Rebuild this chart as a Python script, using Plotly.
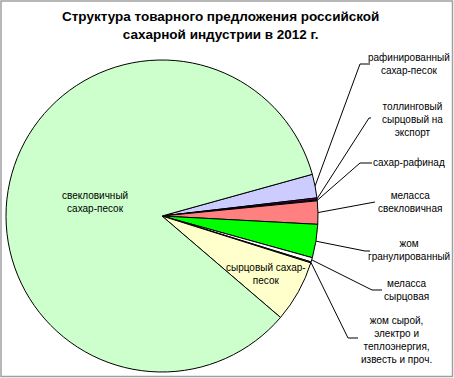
import math
import plotly.graph_objects as go

title_text = "Структура товарного предложения российской<br>сахарной индустрии в 2012 г."

categories = [
    "рафинированный сахар-песок",
    "толлинговый сырцовый на экспорт",
    "сахар-рафинад",
    "меласса свекловичная",
    "жом гранулированный",
    "меласса сырцовая",
    "жом сырой, электро и теплоэнергия, известь и проч.",
    "сырцовый сахар-песок",
    "свекловичный сахар-песок",
]
values = [2.45, 0.2, 0.1, 2.4, 3.45, 0.45, 0.1, 6.4, 84.3]
colors = ["#CCCCFF", "#660066", "#0066CC", "#FF8080", "#00FF00",
          "#FFFFFF", "#CCFFFF", "#FFFFCC", "#CCFFCC"]

label_texts = [
    "рафинированный<br>сахар-песок",
    "толлинговый<br>сырцовый на<br>экспорт",
    "сахар-рафинад",
    "меласса<br>свекловичная",
    "жом<br>гранулированный",
    "меласса<br>сырцовая",
    "жом сырой,<br>электро и<br>теплоэнергия,<br>известь и проч.",
    "сырцовый сахар-<br>песок",
    "свекловичный<br>сахар-песок",
]

W, H = 454, 378
CX, CY, R = 162, 216, 156
ROT = 74.5

label_layout = [
    (409, 64, [(370, 64), (360, 64)]),
    (412, 119, [(371, 118), (369, 118)]),
    (409, 163, [(372, 163), (360, 163)]),
    (410, 202, [(375, 202)]),
    (409, 250, [(370, 251), (365, 251)]),
    (406, 290, [(382, 290), (372, 290)]),
    (396, 340, [(358, 338), (348, 338)]),
    (266, 274, None),
    (95, 202, None),
]


def px(x):
    return x / W


def py(y):
    return 1 - y / H


fig = go.Figure()
fig.add_trace(go.Pie(
    labels=categories, values=values, sort=False, direction="clockwise",
    rotation=ROT, marker=dict(colors=colors, line=dict(color="#000000", width=1)),
    textinfo="none", hoverinfo="label+percent", showlegend=False,
    domain=dict(x=[px(CX - R), px(CX + R)], y=[py(CY + R), py(CY - R)]),
))

total = sum(values)
ang = ROT
shapes = []
annotations = []
for v, txt, lay in zip(values, label_texts, label_layout):
    span = 360 * v / total
    mid = math.radians(ang + span / 2)
    ang += span
    lx, ly, elbows = lay
    annotations.append(dict(x=px(lx), y=py(ly), xref="paper", yref="paper",
                            xanchor="center", yanchor="middle",
                            text=txt, showarrow=False, align="center",
                            font=dict(family="Liberation Sans, Arial", size=10, color="#000000")))
    if elbows is None:
        continue
    ex = CX + R * math.sin(mid)
    ey = CY - R * math.cos(mid)
    pts = elbows + [(ex, ey)]
    path = "M " + " L ".join(f"{px(a)},{py(b)}" for a, b in pts)
    shapes.append(dict(type="path", path=path, xref="paper", yref="paper",
                       line=dict(color="#000000", width=1)))

annotations.append(dict(x=px(220), y=py(25), xref="paper", yref="paper",
                        xanchor="center", yanchor="middle",
                        text="<b>" + title_text + "</b>", showarrow=False, align="center",
                        font=dict(family="Liberation Sans, Arial", size=13.5, color="#000000")))

shapes.append(dict(type="rect", xref="paper", yref="paper",
                   x0=px(1), x1=px(W - 1.5), y0=py(H - 1.5), y1=py(1),
                   line=dict(color="#A0A0A0", width=1.5)))

fig.update_layout(width=W, height=H, margin=dict(l=0, r=0, t=0, b=0),
                  paper_bgcolor="#FFFFFF", plot_bgcolor="#FFFFFF",
                  shapes=shapes, annotations=annotations)
fig.write_html("out.html", config={"displayModeBar": False},
               post_script="document.body.style.margin='0';")
